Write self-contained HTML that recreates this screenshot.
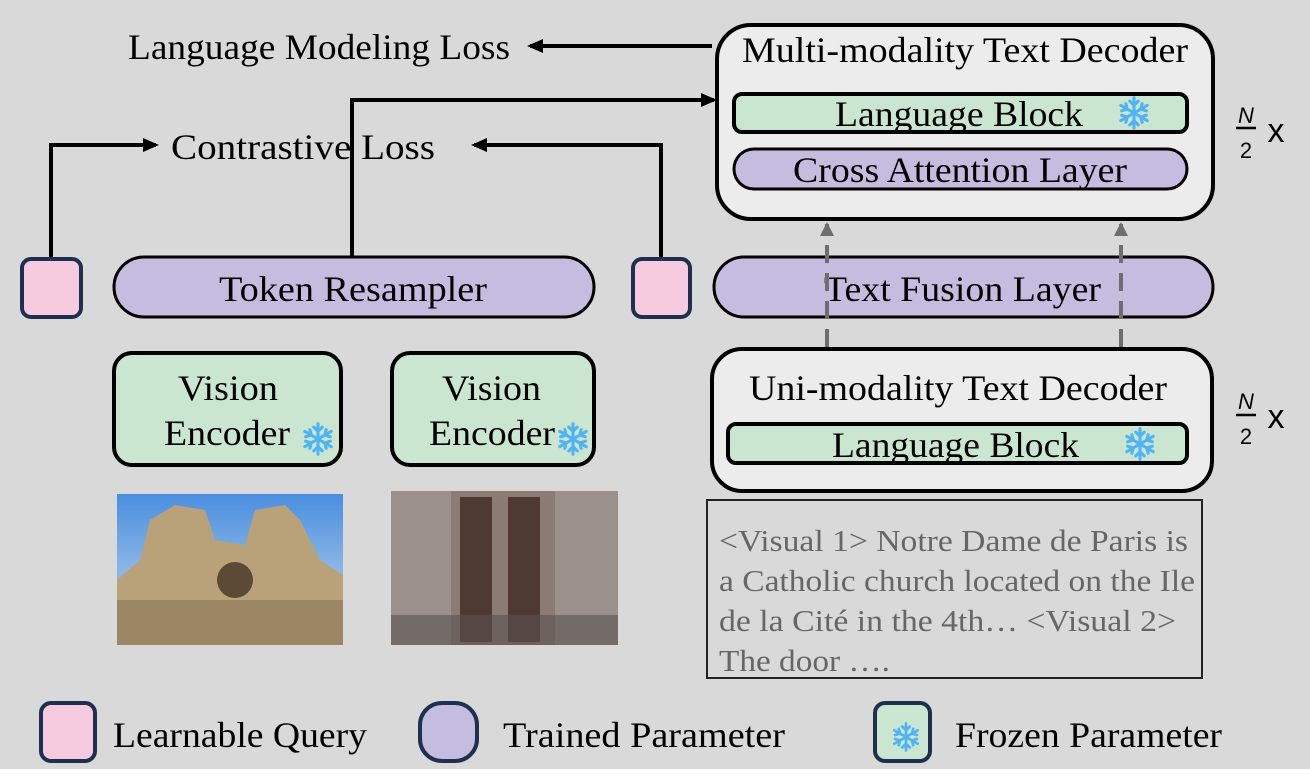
<!DOCTYPE html>
<html><head><meta charset="utf-8"><style>
html,body{margin:0;padding:0;background:#fff;}
svg{display:block;}
text{font-family:"Liberation Serif",serif;}
</style></head><body>
<svg width="1310" height="779" viewBox="0 0 1310 779" xmlns="http://www.w3.org/2000/svg">
<defs>
<marker id="ah" markerWidth="16" markerHeight="16" refX="13" refY="8" orient="auto" markerUnits="userSpaceOnUse"><path d="M0,1 L16,8 L0,15 z" fill="#000"/></marker>
<marker id="ag" markerWidth="14" markerHeight="14" refX="12" refY="7" orient="auto" markerUnits="userSpaceOnUse"><path d="M0,0 L14,7 L0,14 z" fill="#6e6e6e"/></marker>
<linearGradient id="sky" x1="0" y1="0" x2="0" y2="1"><stop offset="0" stop-color="#4a8ee0"/><stop offset="0.5" stop-color="#8ab6e6"/><stop offset="1" stop-color="#b0a27a"/></linearGradient>
<symbol id="flake" viewBox="-10 -10 20 20"><g stroke="#4fb3f5" stroke-width="1.8" fill="none" stroke-linecap="round"><path d="M0-9V9M-7.8-4.5L7.8 4.5M-7.8 4.5L7.8-4.5"/><path d="M-2.5-7L0-4.5L2.5-7M-2.5 7L0 4.5L2.5 7M-7.3-1.3L-4-2.3L-4.8-5.5M7.3 1.3L4 2.3L4.8 5.5M-7.3 1.3L-4 2.3L-4.8 5.5M7.3-1.3L4-2.3L4.8-5.5"/></g></symbol>
</defs>
<rect x="0" y="0" width="1310" height="769" fill="#d9d9d9"/>

<text x="128" y="59" font-size="36" textLength="382" lengthAdjust="spacingAndGlyphs">Language Modeling Loss</text>
<line x1="712" y1="46" x2="530" y2="46" stroke="#000" stroke-width="4" marker-end="url(#ah)"/>

<text x="171" y="159" font-size="36" textLength="264" lengthAdjust="spacingAndGlyphs">Contrastive  Loss</text>
<polyline points="51,258 51,145 156,145" fill="none" stroke="#000" stroke-width="4" marker-end="url(#ah)"/>
<polyline points="661,258 661,145 474,145" fill="none" stroke="#000" stroke-width="4" marker-end="url(#ah)"/>
<polyline points="352,256 352,100 714,100" fill="none" stroke="#000" stroke-width="4" marker-end="url(#ah)"/>

<rect x="717" y="25" width="496" height="194" rx="34" fill="#ececec" stroke="#000" stroke-width="4"/>
<text x="742" y="62" font-size="36" textLength="446" lengthAdjust="spacingAndGlyphs">Multi-modality Text Decoder</text>
<rect x="734" y="94" width="453" height="38" rx="8" fill="#cbe6d0" stroke="#000" stroke-width="4"/>
<text x="835" y="126" font-size="36" textLength="248" lengthAdjust="spacingAndGlyphs">Language Block</text>
<use href="#flake" x="1117" y="96" width="34" height="34"/>
<rect x="734" y="149" width="453" height="40" rx="20" fill="#c5bde0" stroke="#000" stroke-width="3"/>
<text x="793" y="182" font-size="36" textLength="334" lengthAdjust="spacingAndGlyphs">Cross Attention Layer</text>

<g>
<text x="1246" y="123" font-size="22" font-style="italic" text-anchor="middle" style="font-family:'Liberation Sans',sans-serif">N</text>
<line x1="1236" y1="128" x2="1256" y2="128" stroke="#000" stroke-width="2.5"/>
<text x="1246" y="158" font-size="22" text-anchor="middle" style="font-family:'Liberation Sans',sans-serif">2</text>
<text x="1276" y="142" font-size="34" text-anchor="middle" style="font-family:'Liberation Sans',sans-serif">x</text>
<text x="1246" y="409" font-size="22" font-style="italic" text-anchor="middle" style="font-family:'Liberation Sans',sans-serif">N</text>
<line x1="1236" y1="415" x2="1256" y2="415" stroke="#000" stroke-width="2.5"/>
<text x="1246" y="444" font-size="22" text-anchor="middle" style="font-family:'Liberation Sans',sans-serif">2</text>
<text x="1276" y="428" font-size="34" text-anchor="middle" style="font-family:'Liberation Sans',sans-serif">x</text>
</g>

<rect x="22" y="259" width="59" height="58" rx="9" fill="#f6cbdf" stroke="#1e2f4f" stroke-width="4"/>
<rect x="633" y="259" width="57" height="58" rx="9" fill="#f6cbdf" stroke="#1e2f4f" stroke-width="4"/>

<rect x="114" y="257" width="480" height="60" rx="30" fill="#c5bde0" stroke="#000" stroke-width="3"/>
<text x="219" y="301" font-size="36" textLength="268" lengthAdjust="spacingAndGlyphs">Token Resampler</text>

<rect x="714" y="257" width="499" height="60" rx="30" fill="#c5bde0" stroke="#000" stroke-width="3"/>
<text x="824" y="301" font-size="36" textLength="277" lengthAdjust="spacingAndGlyphs">Text Fusion Layer</text>

<line x1="827" y1="347" x2="827" y2="224" stroke="#6e6e6e" stroke-width="4" stroke-dasharray="18,10" marker-end="url(#ag)"/>
<line x1="1121" y1="347" x2="1121" y2="224" stroke="#6e6e6e" stroke-width="4" stroke-dasharray="18,10" marker-end="url(#ag)"/>

<rect x="712" y="349" width="500" height="142" rx="30" fill="#ececec" stroke="#000" stroke-width="4"/>
<text x="749" y="400" font-size="36" textLength="418" lengthAdjust="spacingAndGlyphs">Uni-modality Text Decoder</text>
<rect x="728" y="424" width="459" height="39" rx="8" fill="#cbe6d0" stroke="#000" stroke-width="4"/>
<text x="832" y="457" font-size="36" textLength="247" lengthAdjust="spacingAndGlyphs">Language Block</text>
<use href="#flake" x="1123" y="427" width="34" height="34"/>

<rect x="114" y="353" width="227" height="112" rx="18" fill="#cbe6d0" stroke="#000" stroke-width="4"/>
<text x="178" y="400" font-size="36" textLength="100" lengthAdjust="spacingAndGlyphs">Vision</text>
<text x="164" y="445" font-size="36" textLength="126" lengthAdjust="spacingAndGlyphs">Encoder</text>
<use href="#flake" x="301" y="422" width="34" height="34"/>
<rect x="392" y="353" width="202" height="112" rx="18" fill="#cbe6d0" stroke="#000" stroke-width="4"/>
<text x="442" y="400" font-size="36" textLength="99" lengthAdjust="spacingAndGlyphs">Vision</text>
<text x="429" y="445" font-size="36" textLength="126" lengthAdjust="spacingAndGlyphs">Encoder</text>
<use href="#flake" x="556" y="422" width="34" height="34"/>

<rect x="117" y="494" width="226" height="151" fill="url(#sky)"/>
<path d="M117,645 L117,580 L140,560 L150,520 L175,505 L205,510 L215,540 L245,545 L255,510 L285,505 L300,520 L320,560 L343,575 L343,645 z" fill="#b9a27a"/>
<rect x="117" y="600" width="226" height="45" fill="#9c8663"/>
<circle cx="235" cy="580" r="18" fill="#5b4a36"/>
<rect x="391" y="491" width="227" height="154" fill="#8a7c74"/>
<rect x="460" y="497" width="32" height="145" fill="#4e3a33"/>
<rect x="508" y="497" width="32" height="145" fill="#4e3a33"/>
<rect x="391" y="491" width="60" height="154" fill="#9c908a"/>
<rect x="555" y="491" width="63" height="154" fill="#9c908a"/>
<rect x="391" y="615" width="227" height="30" fill="#5a5250" opacity="0.6"/>

<rect x="707" y="500" width="495" height="178" fill="#d9d9d9" stroke="#222" stroke-width="2"/>
<g font-size="31" fill="#666">
<text x="719" y="551" textLength="469" lengthAdjust="spacingAndGlyphs">&lt;Visual 1&gt; Notre Dame de Paris is</text>
<text x="719" y="591" textLength="476" lengthAdjust="spacingAndGlyphs">a Catholic church located on the Ile</text>
<text x="719" y="631" textLength="457" lengthAdjust="spacingAndGlyphs">de la Cité in the 4th… &lt;Visual 2&gt;</text>
<text x="719" y="671" textLength="171" lengthAdjust="spacingAndGlyphs">The door ….</text>
</g>

<rect x="41" y="703" width="54" height="58" rx="10" fill="#f6cbdf" stroke="#1e2f4f" stroke-width="4"/>
<text x="113" y="747" font-size="36" textLength="254" lengthAdjust="spacingAndGlyphs">Learnable Query</text>
<rect x="420" y="703" width="57" height="58" rx="22" fill="#c5bde0" stroke="#1e2f4f" stroke-width="4"/>
<text x="503" y="747" font-size="36" textLength="282" lengthAdjust="spacingAndGlyphs">Trained Parameter</text>
<rect x="875" y="703" width="55" height="58" rx="10" fill="#cbe6d0" stroke="#1e2f4f" stroke-width="4"/>
<use href="#flake" x="891" y="722" width="30" height="30"/>
<text x="955" y="747" font-size="36" textLength="267" lengthAdjust="spacingAndGlyphs">Frozen Parameter</text>
</svg>
</body></html>
